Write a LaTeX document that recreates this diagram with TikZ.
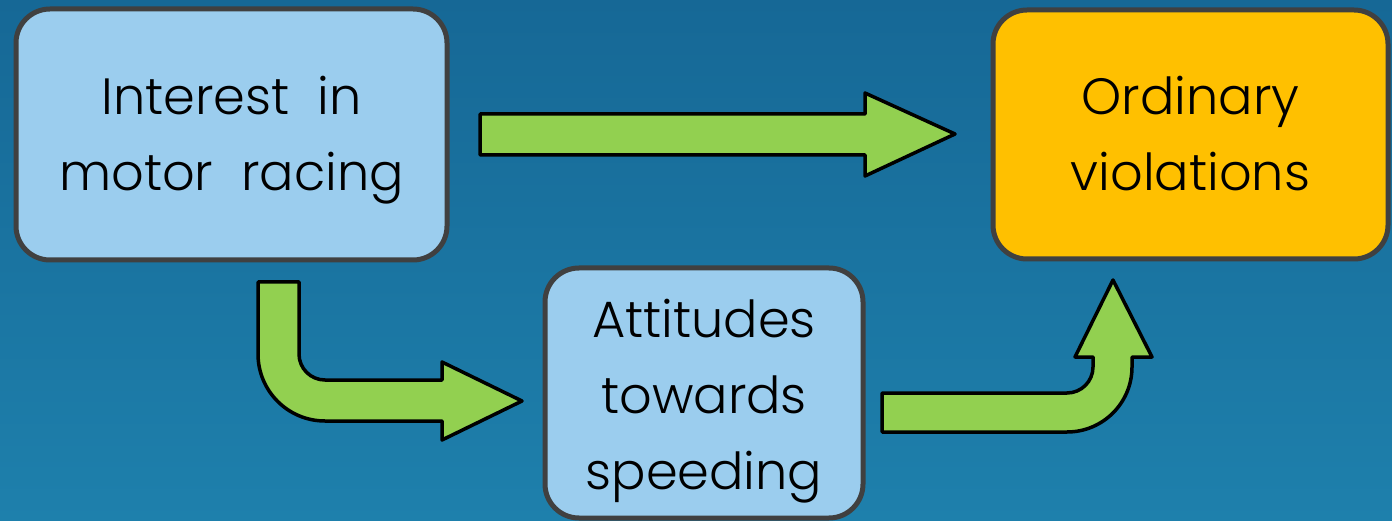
\documentclass[tikz,border=0pt]{standalone}
\usepackage{fontspec}
\setmainfont{Poppins}[UprightFont=* Light]
\definecolor{bgtop}{RGB}{22,104,150}
\definecolor{bgbot}{RGB}{30,128,172}
\definecolor{boxblue}{RGB}{155,205,238}
\definecolor{boxgold}{RGB}{255,192,0}
\definecolor{boxline}{RGB}{64,64,64}
\definecolor{arrowgreen}{RGB}{146,208,80}
% #1 = height of first baseline above the node centre
\newcommand\boxtext[2]{\raisebox{#1}[0pt][0pt]{\begin{tabular}[t]{@{}c@{}}#2\end{tabular}}}
\tikzset{
  box/.style={draw=boxline, line width=5pt, rounded corners=34pt,
    font=\fontsize{51}{76}\selectfont, inner sep=0pt, text=black},
  blockarrow/.style={fill=arrowgreen, draw=black, line width=3.5pt, line join=round}
}
\begin{document}
\begin{tikzpicture}[x=1pt,y=-1pt]
\shade[top color=bgtop, bottom color=bgbot] (0,0) rectangle (1392,521);
\useasboundingbox (0,0) rectangle (1392,521);
\node[box, fill=boxblue, minimum width=431pt, minimum height=251pt] (interest) at (231.5,134.5) {\boxtext{19.5pt}{Interest\ \ in\\motor\ \ racing}};
\node[box, fill=boxgold, minimum width=395pt, minimum height=249pt] (ordinary) at (1190.5,134.5) {\boxtext{19.5pt}{Ordinary\\violations}};
\node[box, fill=boxblue, minimum width=318pt, minimum height=250pt] (attitudes) at (704,393) {\boxtext{56pt}{Attitudes\\towards\\speeding}};
% straight arrow
\draw[blockarrow] (480,114) -- (865,114) -- (865,93) -- (955,134) -- (865,176) -- (865,155) -- (480,155) -- cycle;
% bent arrow interest -> attitudes
\draw[blockarrow] (258,282) -- (299,282) -- (299,354) arc(180:90:26) -- (442,380) -- (442,362) -- (522,401) -- (442,440) -- (442,421) -- (325,421) arc(90:180:67) -- cycle;
% bent arrow attitudes -> ordinary
\draw[blockarrow] (882,393) -- (1067,393) arc(90:0:26) -- (1093,357) -- (1075,357) -- (1113,280) -- (1152,357) -- (1132,357) -- (1132,367) arc(0:90:65) -- (882,432) -- cycle;
\end{tikzpicture}
\end{document}
